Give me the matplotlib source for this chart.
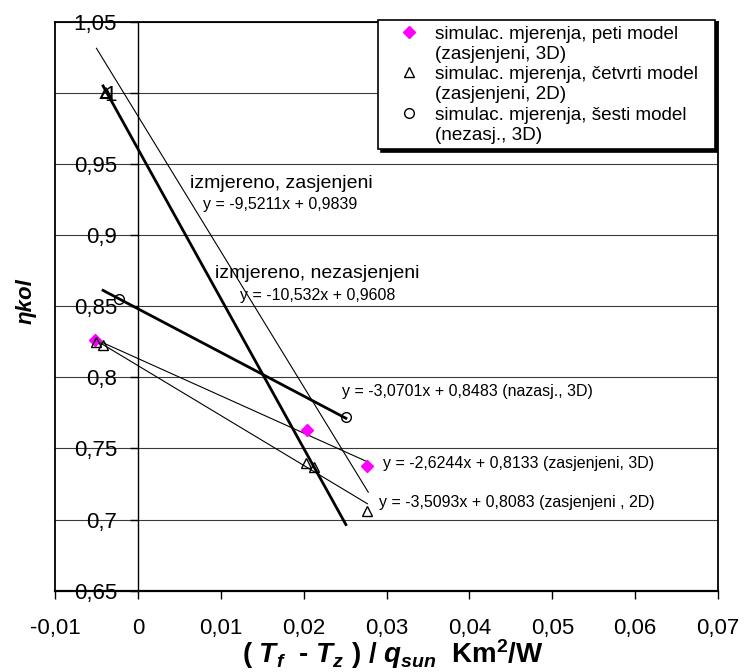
import numpy as np
import matplotlib
matplotlib.use("Agg")
import matplotlib.pyplot as plt
from matplotlib.lines import Line2D

# ================================================
# PODACI
# ================================================
# simulac. mjerenja, peti model (zasjenjeni, 3D)
x_peti = [-0.0052, 0.0204, 0.0277]
y_peti = [0.826, 0.763, 0.738]

# simulac. mjerenja, cetvrti model (zasjenjeni, 2D)
x_cetvrti = [-0.0051, -0.0042, 0.0203, 0.0212, 0.0277]
y_cetvrti = [0.825, 0.823, 0.740, 0.737, 0.706]

# simulac. mjerenja, sesti model (nezasj., 3D)
x_sesti = [-0.0023, 0.0251]
y_sesti = [0.855, 0.772]

# izmjerena tocka (gore lijevo)
x_izmjereno = [-0.0038]
y_izmjereno = [1.0]

# pravci (trendovi): nagib, odsjecak, raspon x
fit_nagib = [-9.5211, -10.532, -3.0701, -2.6244, -3.5093]
fit_odsjecak = [0.9839, 0.9608, 0.8483, 0.8133, 0.8083]
fit_x_od = [-0.0050, -0.0042, -0.0042, -0.0052, -0.0050]
fit_x_do = [0.0278, 0.0251, 0.0251, 0.0277, 0.0277]

natpisi_izmjereno = ["izmjereno, zasjenjeni", "izmjereno, nezasjenjeni"]
natpisi_jednadzbe = [
    "y = -9,5211x + 0,9839",
    "y = -10,532x + 0,9608",
    "y = -3,0701x + 0,8483 (nazasj., 3D)",
    "y = -2,6244x + 0,8133 (zasjenjeni, 3D)",
    "y = -3,5093x + 0,8083 (zasjenjeni , 2D)",
]

legenda_tekst = [
    "simulac. mjerenja, peti model", "(zasjenjeni, 3D)",
    "simulac. mjerenja, četvrti model", "(zasjenjeni, 2D)",
    "simulac. mjerenja, šesti model", "(nezasj., 3D)",
]

x_ticks = [-0.01, 0.0, 0.01, 0.02, 0.03, 0.04, 0.05, 0.06, 0.07]
y_ticks = [0.65, 0.7, 0.75, 0.8, 0.85, 0.9, 0.95, 1.0, 1.05]


def zarez(v):
    """Decimalni zarez umjesto tocke."""
    return f"{v:g}".replace(".", ",")


# ================================================
# CRTANJE
# ================================================
plt.rcParams["font.family"] = ["Liberation Sans", "DejaVu Sans"]
plt.rcParams["mathtext.fontset"] = "custom"
plt.rcParams["mathtext.rm"] = "Liberation Sans"
plt.rcParams["mathtext.it"] = "Liberation Sans:italic"
plt.rcParams["mathtext.bf"] = "Liberation Sans:bold"
plt.rcParams["mathtext.bfit"] = "Liberation Sans:bold:italic"

fig = plt.figure(figsize=(7.45, 6.72), dpi=100)
ax = fig.add_axes([55 / 745, 1 - 590.6 / 672, (718 - 55) / 745, (590.6 - 22) / 672])

ax.set_xlim(-0.01, 0.07)
ax.set_ylim(0.65, 1.05)

# horizontalne linije mreze
ax.set_yticks(y_ticks)
ax.yaxis.grid(True, color="#3a3a3a", lw=0.8)
ax.set_axisbelow(True)

# trendovi
debljine = [0.8, 2.0, 2.0, 0.8, 0.8]
for k in range(len(fit_nagib)):
    xx = np.array([fit_x_od[k], fit_x_do[k]])
    yy = fit_nagib[k] * xx + fit_odsjecak[k]
    ax.plot(xx, yy, color="black", lw=debljine[k], zorder=3)

# tocke
ax.plot(x_peti, y_peti, ls="none", marker="D", ms=6, color="#ff00ff", zorder=4)
ax.plot(x_cetvrti, y_cetvrti, ls="none", marker="^", ms=7.5, mfc="none", mec="black", mew=1.0, zorder=4)
ax.plot(x_izmjereno, y_izmjereno, ls="none", marker="^", ms=7.5, mfc="none", mec="black", mew=1.5, zorder=4)
ax.plot(x_sesti, y_sesti, ls="none", marker="o", ms=7, mfc="none", mec="black", mew=1.0, zorder=4)

# natpisi
ax.text(0.0063, 0.9367, natpisi_izmjereno[0], fontsize=14, va="center")
ax.text(0.0093, 0.8734, natpisi_izmjereno[1], fontsize=14, va="center")
poz_jedn = [(0.0079, 0.9213), (0.0123, 0.8575), (0.0246, 0.7899), (0.0296, 0.7396), (0.0291, 0.7121)]
for tekst, (px, py) in zip(natpisi_jednadzbe, poz_jedn):
    ax.text(px, py, tekst, fontsize=11.5, va="center")

# osi
ax.spines["left"].set_position(("data", 0))
ax.spines["left"].set_linewidth(1.0)
ax.spines["bottom"].set_linewidth(1.6)
ax.spines["top"].set_linewidth(1.3)
ax.spines["right"].set_linewidth(1.3)
ax.axvline(-0.01, color="black", lw=1.3, clip_on=False)

ax.set_xticks(x_ticks)
ax.set_xticklabels([zarez(v) for v in x_ticks])
ax.set_yticklabels([zarez(v) for v in y_ticks])
ax.tick_params(axis="x", direction="out", length=5.5, width=1.0, pad=14, labelsize=16)
ax.tick_params(axis="y", direction="out", length=6, width=1.0, pad=9, labelsize=16)

fig.text(26 / 745, 1 - 301 / 672, "ηkol", rotation=90, fontsize=16,
         fontweight="bold", style="italic", ha="center", va="center")
fig.text(393 / 745, 9 / 672,
         "$\\mathbf{(}\\ \\mathbfit{T}_{\\mathbfit{f}}\\ \\ \\mathbf{\u2010}\\ \\mathbfit{T}_{\\mathbfit{z}}\\ \\mathbf{)}"
         "\\ \\mathbf{/}\\ \\mathbfit{q}_{\\mathbfit{sun}}\\ \\ \\mathbf{Km^2/W}$",
         fontsize=20, ha="center", va="baseline")

# legenda
prazno = Line2D([], [], ls="none", marker=None)
rucke = [
    Line2D([], [], ls="none", marker="D", ms=6, color="#ff00ff"), prazno,
    Line2D([], [], ls="none", marker="^", ms=7.5, mfc="none", mec="black"), prazno,
    Line2D([], [], ls="none", marker="o", ms=7, mfc="none", mec="black"), prazno,
]
leg = ax.legend(rucke, legenda_tekst, loc="upper left",
                bbox_to_anchor=(378 / 745, 1 - 19.7 / 672, (714.7 - 378) / 745, 0),
                bbox_transform=fig.transFigure, mode="expand", borderaxespad=0,
                fontsize=13.6, labelspacing=0.16, handlelength=2.7, handletextpad=0.0,
                borderpad=0.3, fancybox=False, framealpha=1,
                shadow={"color": "black", "alpha": 1})
leg.get_frame().set_edgecolor("black")
leg.get_frame().set_linewidth(1.2)

fig.savefig("out.png", dpi=100)
